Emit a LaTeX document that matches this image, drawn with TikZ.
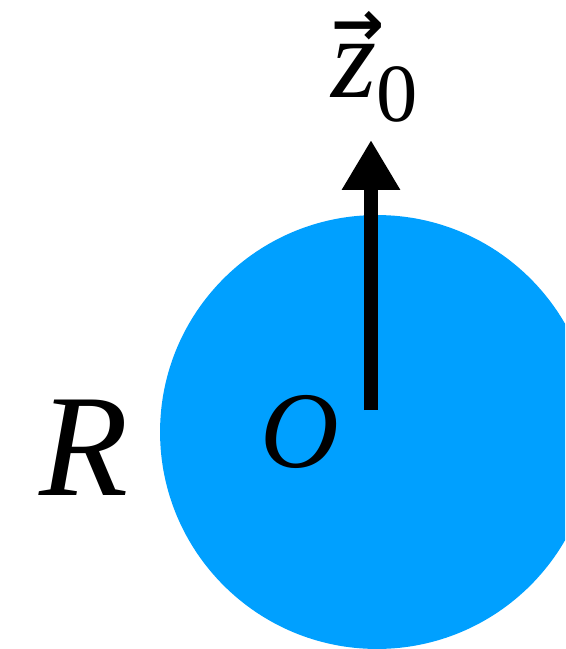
\documentclass[tikz,border=0pt]{standalone}
\usepackage{fontspec}
\setmainfont{LiberationSerif}[Extension=.ttf, UprightFont=*-Regular, ItalicFont=*-Italic, BoldFont=*-Bold]
\newfontfamily\arrowfont{DejaVu Sans}
\usetikzlibrary{arrows.meta}
\definecolor{ballblue}{RGB}{0,160,255}
\tikzset{
  ball/.style={fill=ballblue, draw=none},
  axis/.style={line width=7.9pt, -{Triangle[length=1cm, width=1.1cm]}},
  bigl/.style={font=\fontsize{83pt}{90pt}\selectfont\itshape, inner sep=0pt},
  midl/.style={font=\fontsize{62pt}{70pt}\selectfont\itshape, inner sep=0pt},
  vecl/.style={font=\fontsize{66pt}{72pt}\selectfont, inner sep=0pt}
}
\newcommand{\vecz}{\makebox[0pt][l]{\raisebox{0.44em}{\arrowfont\bfseries\fontsize{36pt}{36pt}\selectfont →}}\textit{z}\raisebox{-0.21em}{\fontsize{47pt}{50pt}\selectfont 0}}

\begin{document}
\begin{tikzpicture}[x=0.02cm, y=-0.02cm]
\useasboundingbox (0,0) rectangle (565,649);
\begin{scope}
  \clip (0,0) rectangle (565,649);
  \fill[ball] (377,432) circle[radius=4.34cm];
\end{scope}
\coordinate (base) at (371,410);
\coordinate (tip) at (371,140);
\draw[axis] (base) -- (tip);
% labels
\node[bigl, anchor=base] (r) at (84,495) {R};
\node[midl, anchor=base] (o) at (300,467) {O};
\node[vecl, anchor=base west] (z) at (331,97) {\vecz};
\end{tikzpicture}
\end{document}
